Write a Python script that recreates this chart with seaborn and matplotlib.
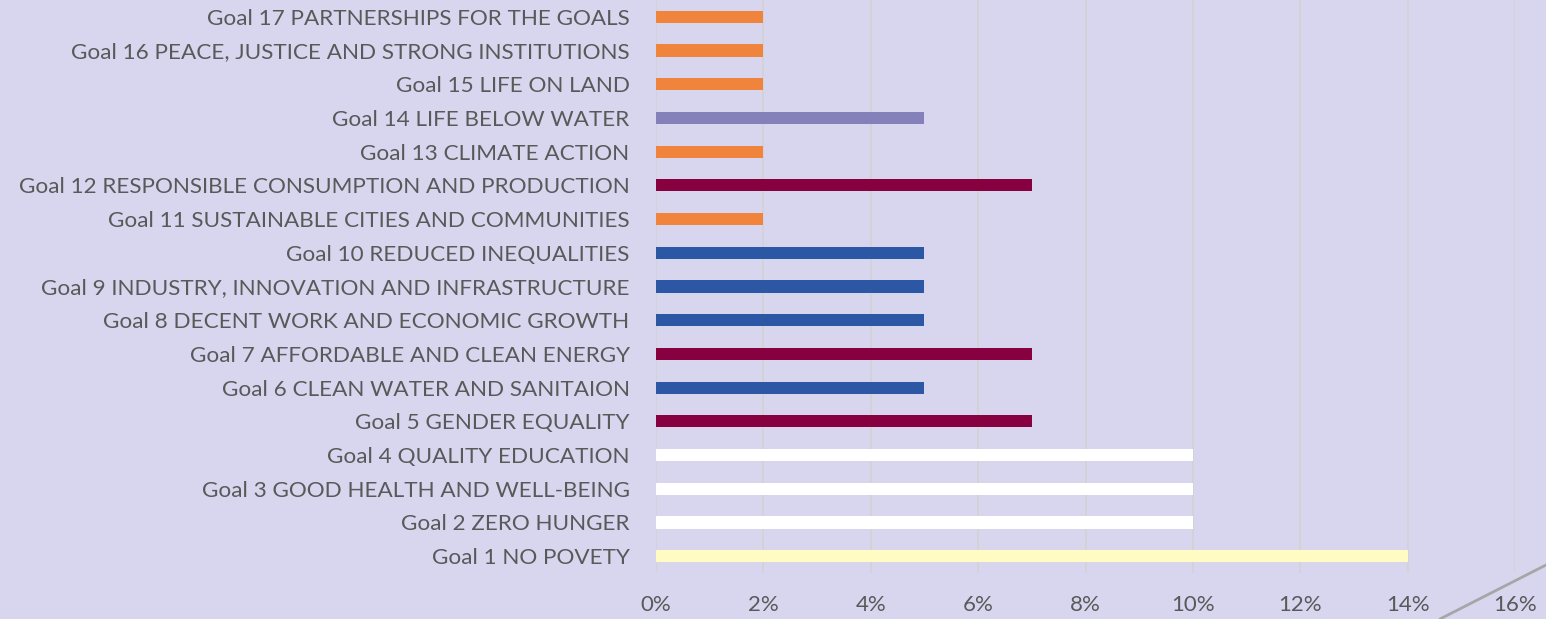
import matplotlib
matplotlib.use("Agg")
import matplotlib.pyplot as plt
import matplotlib.ticker as mtick
from matplotlib.lines import Line2D
import seaborn as sns
import pandas as pd

# Data (top to bottom as shown)
goals = [
    "Goal 17 PARTNERSHIPS FOR THE GOALS",
    "Goal 16 PEACE, JUSTICE AND STRONG INSTITUTIONS",
    "Goal 15 LIFE ON LAND",
    "Goal 14 LIFE BELOW WATER",
    "Goal 13 CLIMATE ACTION",
    "Goal 12 RESPONSIBLE CONSUMPTION AND PRODUCTION",
    "Goal 11 SUSTAINABLE CITIES AND COMMUNITIES",
    "Goal 10 REDUCED INEQUALITIES",
    "Goal 9 INDUSTRY, INNOVATION AND INFRASTRUCTURE",
    "Goal 8 DECENT WORK AND ECONOMIC GROWTH",
    "Goal 7 AFFORDABLE AND CLEAN ENERGY",
    "Goal 6 CLEAN WATER AND SANITAION",
    "Goal 5 GENDER EQUALITY",
    "Goal 4 QUALITY EDUCATION",
    "Goal 3 GOOD HEALTH AND WELL-BEING",
    "Goal 2 ZERO HUNGER",
    "Goal 1 NO POVETY",
]
shares = [0.02, 0.02, 0.02, 0.05, 0.02, 0.07, 0.02, 0.05, 0.05, 0.05,
          0.07, 0.05, 0.07, 0.10, 0.10, 0.10, 0.14]
bar_colors = ["#F0843C", "#F0843C", "#F0843C", "#8480BA", "#F0843C", "#870040",
              "#F0843C", "#2B57A5", "#2B57A5", "#2B57A5", "#870040", "#2B57A5",
              "#870040", "#FFFFFF", "#FFFFFF", "#FFFFFF", "#FFFBC2"]

df = pd.DataFrame({"goal": goals, "share": shares})

bg = "#D8D6EF"
sns.set_theme(style="white")
plt.rcParams["font.family"] = ["Lato", "DejaVu Sans"]

fig = plt.figure(figsize=(15.46, 6.19), dpi=100, facecolor=bg)
ax = fig.add_axes([656 / 1546, 46 / 619, (1515 - 656) / 1546, 573 / 619])
ax.set_facecolor(bg)

sns.barplot(data=df, x="share", y="goal", hue="goal", palette=bar_colors,
            legend=False, width=0.36, saturation=1, linewidth=0, ax=ax, zorder=3)

ax.set_xlim(0, 0.16)
ax.set_ylim(16.5, -0.5)
ax.set_xticks([i * 0.02 for i in range(9)])
ax.xaxis.set_major_formatter(mtick.FuncFormatter(lambda x, _: f"{x * 100:.0f}%"))
ax.grid(axis="x", color="#D3D3D3", linewidth=1.2, zorder=0)
ax.set_xlabel("")
ax.set_ylabel("")
for s in ax.spines.values():
    s.set_visible(False)
ax.tick_params(axis="x", colors="#595959", labelsize=16, length=0, pad=16)
ax.tick_params(axis="y", colors="#595959", labelsize=16.2, length=0, pad=19)

# decorative corner stroke
fig.add_artist(Line2D([1440 / 1546, 1546 / 1546], [0, 54 / 619],
                      transform=fig.transFigure, color="#A6A6A6", linewidth=2))

fig.savefig("out.png", dpi=100, facecolor=bg)
